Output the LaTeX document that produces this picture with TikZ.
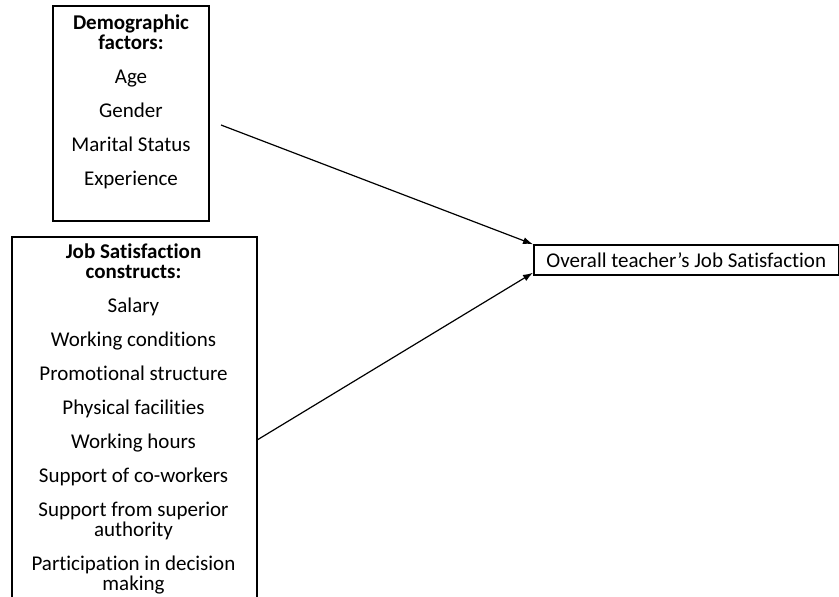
\documentclass[tikz,border=0pt]{standalone}
\usepackage{fontspec}
\setmainfont[Ligatures=NoCommon]{Carlito}
\usetikzlibrary{arrows.meta, positioning}

\begin{document}
\begin{tikzpicture}[
    x=0.5pt, y=-0.5pt,
    line width=0.6pt,
    >={Latex[length=5pt, width=3.5pt]},
    every node/.style={font=\fontsize{10.5}{10}\selectfont},
    frame/.style={draw, line width=0.75pt, inner sep=0pt},
    list/.style={align=center, inner sep=0pt}
]
\useasboundingbox (0,0) rectangle (839,596);

% Boxes
\node[frame, minimum width=78pt, minimum height=107.5pt] (demo) at (131,113.5) {};
\node[frame, minimum width=122.5pt, minimum height=203pt, anchor=north west] (jobs) at (11,236) {};
\node[frame, minimum width=152.5pt, minimum height=15pt, anchor=west] (overall) at (533,260)
    {Overall teacher’s Job Satisfaction};

% Lists
\node[list, anchor=north] (demolist) at (131,14)
    {\textbf{Demographic}\\ \textbf{factors:}\\[7pt]
     Age\\[7pt] Gender\\[7pt] Marital Status\\[7pt] Experience};
\node[list, anchor=north] (joblist) at (133.5,243)
    {\textbf{Job Satisfaction}\\ \textbf{constructs:}\\[7pt]
     Salary\\[7pt] Working conditions\\[7pt] Promotional structure\\[7pt]
     Physical facilities\\[7pt] Working hours\\[7pt] Support of co-workers\\[7pt]
     Support from superior\\ authority\\[7pt]
     Participation in decision\\ making};

% Arrows
\coordinate (demoout) at (221,125);
\draw[->] (demoout) -- (overall.north west);
\draw[->] (jobs.east) -- ([yshift=1.5pt]overall.south west);

\end{tikzpicture}
\end{document}
